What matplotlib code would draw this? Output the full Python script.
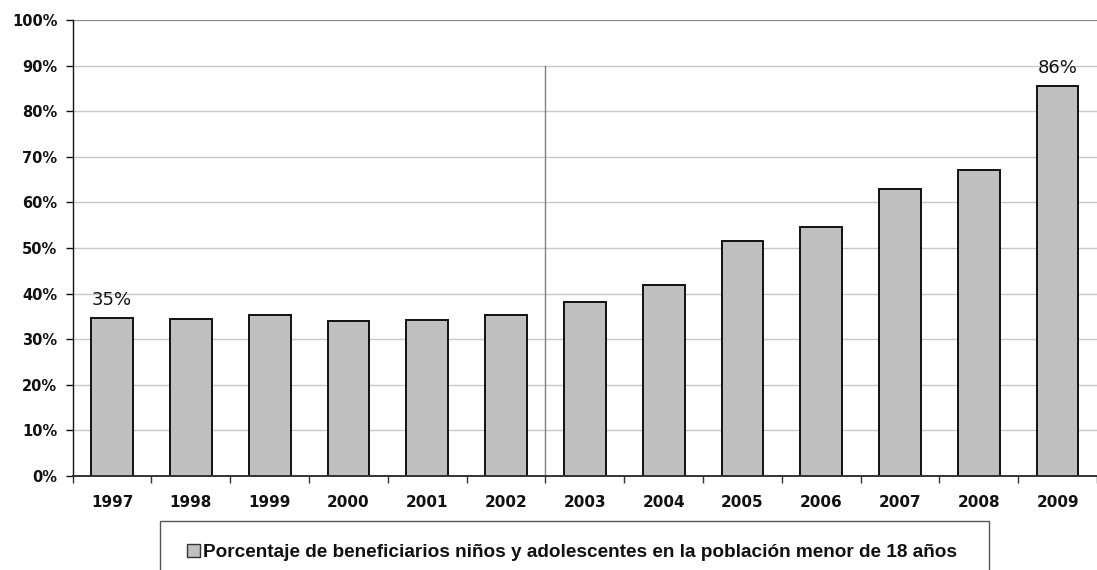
import matplotlib
matplotlib.use("Agg")
import matplotlib.pyplot as plt
from matplotlib.patches import Rectangle
import numpy as np

years = ["1997", "1998", "1999", "2000", "2001", "2002", "2003",
         "2004", "2005", "2006", "2007", "2008", "2009"]
values = [34.7, 34.5, 35.3, 34.0, 34.2, 35.3, 38.2,
          41.8, 51.5, 54.6, 62.9, 67.1, 85.6]
labeled = ["1997", "2009"]
legend_label = "Porcentaje de beneficiarios niños y adolescentes en la población menor de 18 años"
yticks = list(range(0, 101, 10))

W, H = 1097, 570
fig = plt.figure(figsize=(W / 100, H / 100), dpi=100)
left_px, bottom_px, top_px = 72.7, 476, 20
step_px = 79.5
ax = fig.add_axes([left_px / W, 1 - bottom_px / H, (W - left_px) / W, (bottom_px - top_px) / H])

x = np.arange(len(years))
bars = ax.bar(x, values, width=0.53, color="#c0c0c0", edgecolor="#111111", linewidth=1.4, zorder=3)

ax.set_xlim(-0.5, -0.5 + (W - left_px) / step_px)
ax.set_ylim(0, 100)

# gridlines
for t in yticks[1:-1]:
    ax.axhline(t, color="#c8c8c8", linewidth=1.0, zorder=1)
ax.axhline(100, color="#888888", linewidth=1.6, zorder=1)

# vertical separator between 2002 and 2003
ax.plot([5.5, 5.5], [0, 90], color="#808080", linewidth=1.0, zorder=2)

for s in ["top", "right"]:
    ax.spines[s].set_visible(False)
ax.spines["left"].set_color("#111111")
ax.spines["bottom"].set_color("#333333")
ax.spines["left"].set_linewidth(1.0)
ax.spines["bottom"].set_linewidth(1.4)
ax.spines["bottom"].set_zorder(4)

ax.set_yticks(yticks)
ax.set_yticklabels([f"{t}%" for t in yticks], fontsize=10.5, fontweight="bold", color="#111111")
ax.tick_params(axis="y", length=5, width=1, pad=6, color="#111111")

ax.set_xticks(np.arange(-0.5, len(years) + 0.5, 1.0))
ax.set_xticklabels([])
ax.tick_params(axis="x", which="major", length=5, width=1, color="#333333", direction="out")
ax.set_xticks(x, minor=True)
ax.set_xticklabels(years, minor=True, fontsize=11, fontweight="bold", color="#111111")
ax.tick_params(axis="x", which="minor", length=0, pad=14)

for xi, v, yr in zip(x, values, years):
    if yr in labeled:
        ax.annotate(f"{round(v)}%", (xi, v), xytext=(0, 6.5), textcoords="offset points",
                    ha="center", va="bottom", fontsize=13, color="#111111", zorder=5)

# legend box (extends past the bottom edge as in the reference)
lx0, lx1, ly0 = 160, 989, 521
fig.patches.append(Rectangle((lx0 / W, -0.05), (lx1 - lx0) / W, 1 - ly0 / H + 0.05,
                             transform=fig.transFigure, facecolor="white",
                             edgecolor="#555555", linewidth=1.0))
fig.patches.append(Rectangle((187 / W, 1 - 556.5 / H), 12.5 / W, 12.5 / H,
                             transform=fig.transFigure, facecolor="#c0c0c0",
                             edgecolor="#333333", linewidth=1.0))
fig.text(203 / W, 1 - 556.7 / H, legend_label, fontsize=13.7, fontweight="bold",
         family="Liberation Sans", va="baseline", ha="left", color="#111111")

fig.savefig("out.png", dpi=100)
